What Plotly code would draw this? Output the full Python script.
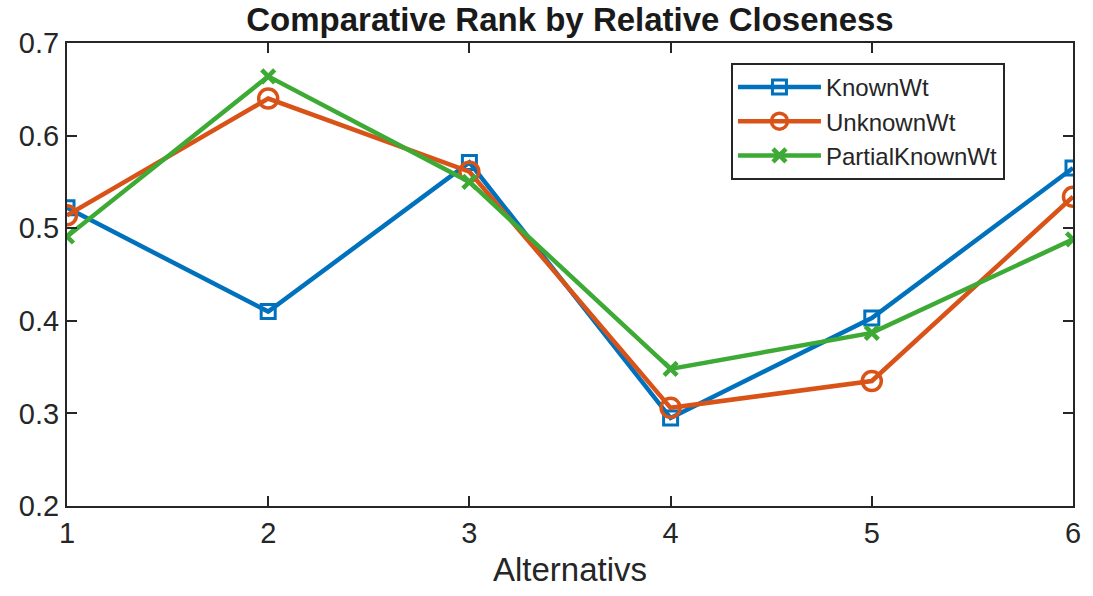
import plotly.graph_objects as go

alternatives = [1, 2, 3, 4, 5, 6]
known_wt = [0.522, 0.410, 0.571, 0.295, 0.403, 0.565]
unknown_wt = [0.514, 0.640, 0.561, 0.306, 0.335, 0.534]
partial_known_wt = [0.491, 0.664, 0.550, 0.348, 0.387, 0.488]

x_ticks = [1, 2, 3, 4, 5, 6]
y_ticks = [0.2, 0.3, 0.4, 0.5, 0.6, 0.7]

FONT = "Liberation Sans, Arial, Helvetica, sans-serif"
AXC = "#262626"

fig = go.Figure()
fig.add_trace(go.Scatter(
    x=alternatives, y=known_wt, name="KnownWt", mode="lines+markers",
    line=dict(color="#0072BD", width=4.5),
    marker=dict(symbol="square-open", size=14, color="#0072BD", line=dict(width=3)),
))
fig.add_trace(go.Scatter(
    x=alternatives, y=unknown_wt, name="UnknownWt", mode="lines+markers",
    line=dict(color="#D95319", width=4.5),
    marker=dict(symbol="circle-open", size=19, color="#D95319", line=dict(width=3.5)),
))
fig.add_trace(go.Scatter(
    x=alternatives, y=partial_known_wt, name="PartialKnownWt", mode="lines+markers",
    line=dict(color="#3DAA35", width=4.5),
    marker=dict(symbol="x-thin-open", size=13, color="#3DAA35", line=dict(width=4.5, color="#3DAA35")),
))

fig.update_layout(
    width=1093, height=596,
    margin=dict(l=67, r=14, t=43, b=90),
    paper_bgcolor="white", plot_bgcolor="white",
    font=dict(family=FONT, color=AXC, size=24),
    title=dict(text="<b>Comparative Rank by Relative Closeness</b>", xref="paper", x=0.5, xanchor="center",
               yref="container", y=0.968, yanchor="middle", font=dict(size=33, color="#1a1a1a")),
    showlegend=True,
    legend=dict(x=0.66, y=0.957, xanchor="left", yanchor="top",
                bordercolor=AXC, borderwidth=2, bgcolor="white",
                font=dict(size=24, color=AXC), tracegroupgap=0, itemwidth=83),
)
fig.update_xaxes(
    range=[1, 6], tickvals=x_ticks, ticktext=[str(v) for v in x_ticks],
    ticks="inside", ticklen=10, tickwidth=2, tickcolor=AXC,
    showline=True, linecolor=AXC, linewidth=2, mirror="ticks",
    showgrid=False, zeroline=False,
    title=dict(text="Alternativs", font=dict(size=33, color=AXC), standoff=10),
    tickfont=dict(size=29, color=AXC),
)
fig.update_yaxes(
    range=[0.2, 0.7], tickvals=y_ticks, ticktext=[f"{v:.1f}" for v in y_ticks],
    ticks="inside", ticklen=10, tickwidth=2, tickcolor=AXC,
    showline=True, linecolor=AXC, linewidth=2, mirror="ticks",
    showgrid=False, zeroline=False,
    tickfont=dict(size=29, color=AXC),
)

# remove the browser's default 8px body margin so the figure fills the window exactly
fig.write_html("out.html", config={"displayModeBar": False},
               post_script="document.body.style.margin='0';document.body.style.overflow='hidden';")
